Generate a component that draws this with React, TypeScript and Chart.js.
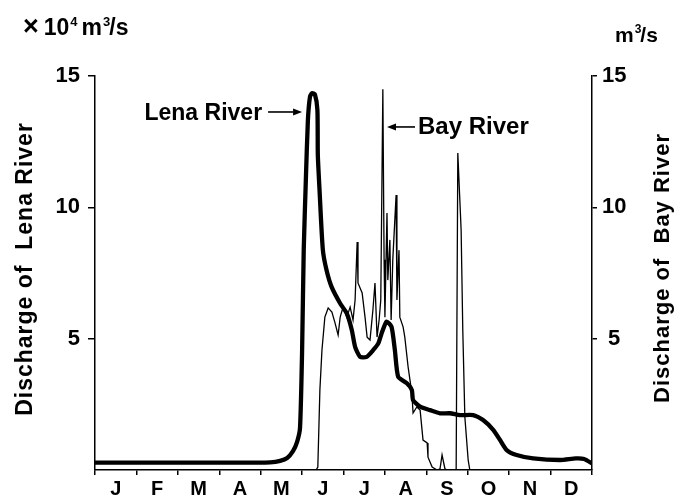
import React, { useEffect, useRef } from 'react';
import { Chart, registerables } from 'chart.js';

Chart.register(...registerables);

const FONT = "'Liberation Sans', Arial, Helvetica, sans-serif";

// Month categories along the bottom axis
const monthLabels = ['J', 'F', 'M', 'A', 'M', 'J', 'J', 'A', 'S', 'O', 'N', 'D'];

// Tick values on the two vertical axes
const lenaTicks = [5, 10, 15];
const bayTicks = [5, 10, 15];

// Lena River discharge (x 10^4 m3/s), x = time in months from 1 Jan
const lenaMonth = [
  0, 1.0, 2.0, 3.0, 3.86, 4.23, 4.47, 4.64, 4.78, 4.88, 4.95, 5.0, 5.04, 5.09, 5.14, 5.19,
  5.24, 5.31, 5.37, 5.38, 5.42, 5.5, 5.59, 5.71, 5.92, 6.08, 6.2, 6.28, 6.4, 6.56,
  6.72, 6.84, 6.92, 7.04, 7.16, 7.24, 7.32, 7.53, 7.65, 7.68, 7.85, 8.09, 8.33, 8.57,
  8.81, 9.13, 9.37, 9.62, 9.78, 9.94, 10.18, 10.58, 11.23, 11.61, 11.81, 12.0,
];
const lenaValue = [
  0.28, 0.28, 0.28, 0.28, 0.28, 0.29, 0.35, 0.46, 0.72, 1.07, 1.6, 4.5, 8.4, 11.0, 13.3, 14.2,
  14.35, 14.3, 13.7, 12.0, 10.7, 8.4, 7.61, 6.98, 6.34, 5.96, 5.33, 4.69, 4.31, 4.31,
  4.57, 4.82, 5.2, 5.65, 5.45, 4.57, 3.55, 3.3, 3.05, 2.66, 2.41, 2.28, 2.16, 2.16,
  2.09, 2.09, 1.9, 1.52, 1.14, 0.76, 0.57, 0.44, 0.38, 0.44, 0.42, 0.25,
];

// Bay River discharge (m3/s)
const bayMonth = [
  5.34, 5.38, 5.43, 5.48, 5.55, 5.63, 5.72, 5.79, 5.87, 5.92, 5.99, 6.08, 6.16, 6.23, 6.28,
  6.33, 6.35, 6.45, 6.52, 6.57, 6.64, 6.71, 6.76, 6.81, 6.86, 6.9, 6.95, 6.98, 7.0, 7.05,
  7.07, 7.12, 7.15, 7.19, 7.27, 7.29, 7.34, 7.36, 7.44, 7.48, 7.56, 7.65, 7.68, 7.77, 7.85,
  7.92, 8.02, 8.04, 8.14, 8.26, 8.33, 8.38, 8.45, 8.5, 8.72, 8.76, 8.84, 8.88, 8.93, 9.01,
  9.05, 12.0,
];
const bayValue = [
  0, 0.11, 3.05, 4.57, 5.82, 6.17, 6.01, 5.63, 5.14, 5.82, 6.2, 5.82, 6.2, 5.71, 6.47,
  8.68, 7.12, 6.74, 5.82, 5.06, 4.95, 6.09, 7.12, 5.06, 5.71, 6.47, 14.5, 8.0, 5.82, 9.78,
  7.23, 8.76, 5.71, 8.0, 10.47, 6.47, 8.37, 5.82, 5.44, 5.06, 3.92, 2.93, 2.17, 2.4, 2.28,
  1.14, 1.03, 0.49, 0.11, 0, 0.04, 0.57, 0.04, 0, 0, 12.07, 9.14, 5.33, 2.02, 0.38,
  0, 0,
];

// Annotation arrow tips [month, value]
const lenaArrowTip = [5.0, 13.63];
const bayArrowTip = [7.05, 13.06];

function drawArrow(ctx: CanvasRenderingContext2D, fromX: number, tipX: number, y: number) {
  const dir = tipX > fromX ? 1 : -1;
  const head = 9;
  ctx.lineWidth = 1.6;
  ctx.beginPath();
  ctx.moveTo(fromX, y);
  ctx.lineTo(tipX - dir * head, y);
  ctx.stroke();
  ctx.beginPath();
  ctx.moveTo(tipX, y);
  ctx.lineTo(tipX - dir * head, y - 3.5);
  ctx.lineTo(tipX - dir * head, y + 3.5);
  ctx.closePath();
  ctx.fill();
}

type Part = { t: string; size: number; dy: number; gap: number };

function drawRun(ctx: CanvasRenderingContext2D, x: number, baseline: number, parts: Part[]) {
  let cx = x;
  ctx.textAlign = 'left';
  ctx.textBaseline = 'alphabetic';
  for (const p of parts) {
    ctx.font = `bold ${p.size}px ${FONT}`;
    ctx.fillText(p.t, cx, baseline + p.dy);
    cx += ctx.measureText(p.t).width + p.gap;
  }
}

function drawVertical(ctx: CanvasRenderingContext2D, text: string, x: number, y: number, size: number, spacing: string) {
  ctx.save();
  ctx.translate(x, y);
  ctx.rotate(-Math.PI / 2);
  ctx.font = `bold ${size}px ${FONT}`;
  (ctx as any).letterSpacing = spacing;
  ctx.textAlign = 'center';
  ctx.textBaseline = 'alphabetic';
  ctx.fillText(text, 0, 0);
  ctx.restore();
}

const decorPlugin = {
  id: 'decor',
  afterDraw(chart: any) {
    const { ctx, chartArea } = chart;
    const xs = chart.scales.x;
    const ys = chart.scales.y;
    const midY = (chartArea.top + chartArea.bottom) / 2;
    ctx.save();
    ctx.fillStyle = '#000';
    ctx.strokeStyle = '#000';

    // Axis titles
    drawVertical(ctx, 'Discharge of  Lena River', 32, midY - 4, 23, '1px');
    drawVertical(ctx, 'Discharge of  Bay River', 669, midY - 5, 22, '1px');

    // Units
    drawRun(ctx, 23, 35, [
      { t: '×', size: 27, dy: 0, gap: 5 },
      { t: '10', size: 23, dy: 0, gap: 1 },
      { t: '4', size: 13, dy: -9, gap: 4 },
      { t: 'm', size: 23, dy: 0, gap: 1 },
      { t: '3', size: 13, dy: -9, gap: -1 },
      { t: '/s', size: 23, dy: 0, gap: 0 },
    ]);
    drawRun(ctx, 615, 42, [
      { t: 'm', size: 21, dy: 0, gap: 1 },
      { t: '3', size: 12, dy: -9, gap: -1 },
      { t: '/s', size: 21, dy: 0, gap: 0 },
    ]);

    // Lena River annotation
    const lx = xs.getPixelForValue(lenaArrowTip[0]);
    const ly = ys.getPixelForValue(lenaArrowTip[1]);
    drawArrow(ctx, lx - 34, lx, ly);
    ctx.font = `bold 23px ${FONT}`;
    ctx.textAlign = 'right';
    ctx.textBaseline = 'alphabetic';
    ctx.fillText('Lena River', lx - 40, ly + 8);

    // Bay River annotation
    const bx = xs.getPixelForValue(bayArrowTip[0]);
    const by = ys.getPixelForValue(bayArrowTip[1]);
    drawArrow(ctx, bx + 28, bx, by);
    ctx.font = `bold 24px ${FONT}`;
    ctx.textAlign = 'left';
    ctx.fillText('Bay River', bx + 31, by + 7);

    ctx.restore();
  },
};

export default function App() {
  const ref = useRef<HTMLCanvasElement>(null);

  useEffect(() => {
    const canvas = ref.current;
    if (!canvas) return;
    const tickFont = { family: FONT, size: 22, weight: 'bold' as const };
    const chart = new Chart(canvas, {
      type: 'line',
      data: {
        datasets: [
          {
            label: 'Lena River',
            data: lenaMonth.map((m, i) => ({ x: m, y: lenaValue[i] })),
            xAxisID: 'x',
            yAxisID: 'y',
            borderColor: '#000',
            borderWidth: 4.3,
            pointRadius: 0,
            tension: 0.2,
            fill: false,
          },
          {
            label: 'Bay River',
            data: bayMonth.map((m, i) => ({ x: m, y: bayValue[i] })),
            xAxisID: 'x',
            yAxisID: 'y2',
            borderColor: '#000',
            borderWidth: 1.3,
            pointRadius: 0,
            tension: 0,
            fill: false,
          },
        ],
      },
      options: {
        animation: false,
        responsive: false,
        layout: { padding: { top: 76, left: 0, right: 0, bottom: 0 } },
        plugins: {
          legend: { display: false },
          tooltip: { enabled: false },
          title: { display: false },
        },
        scales: {
          x: { type: 'linear', min: 0, max: 12, display: false },
          xm: {
            type: 'category',
            labels: monthLabels,
            position: 'bottom',
            offset: true,
            grid: { offset: true, drawOnChartArea: false, tickLength: 5, color: '#000', lineWidth: 1.5 },
            border: { display: true, color: '#000', width: 1.5 },
            ticks: {
              color: '#000',
              font: { family: FONT, size: 20, weight: 'bold' },
              padding: 2,
              maxRotation: 0,
              autoSkip: false,
            },
            afterFit: (s: any) => {
              s.height = 28;
            },
          },
          y: {
            type: 'linear',
            position: 'left',
            min: 0,
            max: 15,
            afterBuildTicks: (s: any) => {
              s.ticks = lenaTicks.map((v) => ({ value: v }));
            },
            grid: { drawOnChartArea: false, tickLength: 7, color: '#000', lineWidth: 1.5 },
            border: { display: true, color: '#000', width: 1.5 },
            ticks: { color: '#000', font: tickFont, padding: 8 },
            afterFit: (s: any) => {
              s.width = 95;
            },
          },
          y2: {
            type: 'linear',
            position: 'right',
            min: 0,
            max: 15,
            afterBuildTicks: (s: any) => {
              s.ticks = bayTicks.map((v) => ({ value: v }));
            },
            grid: { drawOnChartArea: false, tickLength: 5, color: '#000', lineWidth: 1.5 },
            border: { display: true, color: '#000', width: 1.5 },
            ticks: { color: '#000', font: tickFont, padding: 5, crossAlign: 'center' },
            afterFit: (s: any) => {
              s.width = 84;
            },
          },
        },
      },
      plugins: [decorPlugin],
    } as any);
    return () => chart.destroy();
  }, []);

  return (
    <div style={{ position: 'absolute', left: 0, top: 0, width: 676, height: 498, background: '#fff' }}>
      <canvas ref={ref} width={676} height={498} style={{ display: 'block', width: 676, height: 498 }} />
    </div>
  );
}
